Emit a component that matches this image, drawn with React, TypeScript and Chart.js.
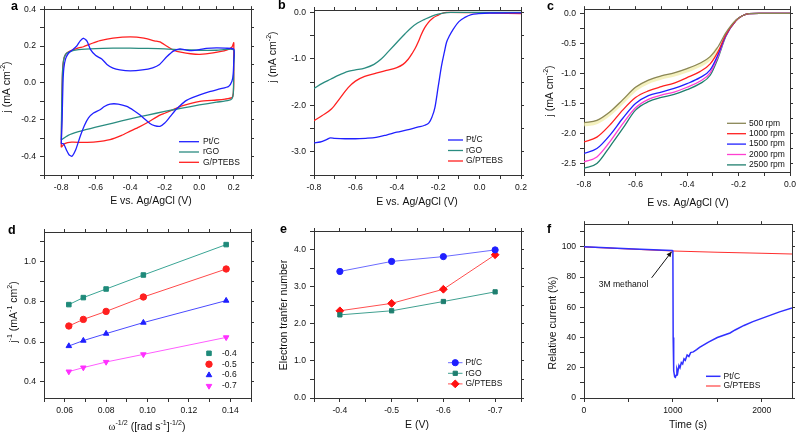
import React, { useEffect, useRef } from 'react';
import { Chart, registerables } from 'chart.js';
import { drawPoint } from 'chart.js/helpers';

Chart.register(...registerables);

const FONT = '"Liberation Sans", Arial, Helvetica, sans-serif';
const SERIF = '"Liberation Serif", "Times New Roman", serif';
const AXIS = '#333333';
const TXT = '#111111';

// ---------------- panel a : CV curves ([E, j]) ----------------
const cvPtC = [
  [-0.8, -0.33], [-0.795, -0.2], [-0.79, 0.0], [-0.785, 0.08], [-0.775, 0.13], [-0.76, 0.158], [-0.74, 0.175],
  [-0.71, 0.2], [-0.69, 0.228], [-0.67, 0.242], [-0.65, 0.225], [-0.63, 0.18], [-0.6, 0.148], [-0.565, 0.13],
  [-0.535, 0.1], [-0.5, 0.08], [-0.46, 0.07], [-0.4, 0.065], [-0.33, 0.07], [-0.27, 0.082], [-0.23, 0.1],
  [-0.19, 0.14], [-0.15, 0.172], [-0.112, 0.184], [-0.075, 0.178], [-0.045, 0.175], [0.0, 0.18], [0.04, 0.187],
  [0.1, 0.19], [0.15, 0.188], [0.2, 0.183],
  [0.2, 0.12], [0.197, 0.05], [0.19, 0.01], [0.17, -0.02], [0.12, -0.033], [0.06, -0.048], [0.003, -0.065],
  [-0.04, -0.08], [-0.074, -0.095], [-0.112, -0.124], [-0.14, -0.15], [-0.17, -0.185], [-0.2, -0.218],
  [-0.228, -0.236], [-0.26, -0.232], [-0.286, -0.22], [-0.343, -0.175], [-0.38, -0.15], [-0.42, -0.128],
  [-0.47, -0.115], [-0.517, -0.115], [-0.55, -0.128], [-0.575, -0.146], [-0.613, -0.164], [-0.642, -0.19],
  [-0.665, -0.23], [-0.69, -0.29], [-0.715, -0.36], [-0.738, -0.398], [-0.755, -0.39], [-0.767, -0.37],
  [-0.787, -0.33], [-0.8, -0.33],
];
const cvRGO = [
  [-0.8, -0.31], [-0.797, -0.1], [-0.793, 0.05], [-0.787, 0.12], [-0.775, 0.155], [-0.75, 0.17], [-0.7, 0.18],
  [-0.6, 0.186], [-0.5, 0.188], [-0.4, 0.188], [-0.3, 0.187], [-0.2, 0.185], [-0.1, 0.18], [0.0, 0.177],
  [0.1, 0.177], [0.2, 0.18],
  [0.2, 0.1], [0.199, 0.0], [0.197, -0.06], [0.19, -0.085], [0.17, -0.095], [0.1, -0.105], [0.0, -0.12],
  [-0.1, -0.137], [-0.2, -0.155], [-0.3, -0.175], [-0.4, -0.195], [-0.5, -0.218], [-0.6, -0.24],
  [-0.7, -0.265], [-0.76, -0.285], [-0.8, -0.31],
];
const cvGPTEBS = [
  [-0.8, -0.35], [-0.797, -0.15], [-0.793, 0.05], [-0.787, 0.12], [-0.775, 0.155], [-0.75, 0.172], [-0.7, 0.19],
  [-0.671, 0.196], [-0.62, 0.215], [-0.575, 0.229], [-0.5, 0.243], [-0.4, 0.25], [-0.32, 0.243], [-0.26, 0.228],
  [-0.228, 0.222], [-0.19, 0.2], [-0.15, 0.178], [-0.1, 0.165], [-0.05, 0.158], [0.003, 0.155], [0.08, 0.163],
  [0.158, 0.178], [0.19, 0.195], [0.2, 0.218],
  [0.2, 0.15], [0.2, 0.0], [0.197, -0.06], [0.19, -0.08], [0.15, -0.088], [0.1, -0.093], [0.003, -0.1],
  [-0.1, -0.125], [-0.15, -0.145], [-0.2, -0.165], [-0.228, -0.175], [-0.3, -0.215], [-0.35, -0.24],
  [-0.4, -0.262], [-0.45, -0.285], [-0.517, -0.308], [-0.6, -0.32], [-0.671, -0.323], [-0.74, -0.322],
  [-0.78, -0.33], [-0.8, -0.35],
];

// ---------------- panel b : LSV ([E, j]) ----------------
const lsvPtC = [
  [-0.8, -2.81], [-0.77, -2.79], [-0.74, -2.74], [-0.72, -2.7], [-0.7, -2.71], [-0.65, -2.72], [-0.6, -2.72],
  [-0.55, -2.71], [-0.5, -2.69], [-0.45, -2.64], [-0.4, -2.58], [-0.35, -2.53], [-0.3, -2.47], [-0.265, -2.43],
  [-0.245, -2.38], [-0.23, -2.25], [-0.216, -2.05], [-0.2, -1.6], [-0.184, -1.15], [-0.17, -0.85],
  [-0.16, -0.65], [-0.145, -0.5], [-0.127, -0.36], [-0.1, -0.2], [-0.071, -0.11], [-0.04, -0.05],
  [-0.006, -0.03], [0.05, -0.015], [0.2, -0.01],
];
const lsvRGO = [
  [-0.8, -1.64], [-0.76, -1.53], [-0.72, -1.44], [-0.68, -1.35], [-0.635, -1.27], [-0.6, -1.24], [-0.555, -1.2],
  [-0.51, -1.12], [-0.474, -1.0], [-0.44, -0.84], [-0.4, -0.65], [-0.36, -0.46], [-0.33, -0.33], [-0.3, -0.23],
  [-0.265, -0.15], [-0.23, -0.08], [-0.2, -0.04], [-0.17, -0.01], [-0.14, 0], [0.2, 0],
];
const lsvGPTEBS = [
  [-0.8, -2.33], [-0.76, -2.22], [-0.716, -2.08], [-0.675, -1.85], [-0.635, -1.62], [-0.6, -1.48],
  [-0.555, -1.38], [-0.5, -1.31], [-0.45, -1.25], [-0.4, -1.19], [-0.37, -1.12], [-0.345, -1.01],
  [-0.325, -0.88], [-0.313, -0.79], [-0.295, -0.62], [-0.281, -0.47], [-0.265, -0.33], [-0.248, -0.22],
  [-0.225, -0.12], [-0.2, -0.06], [-0.18, -0.02], [-0.16, 0], [0.0, -0.01], [0.2, -0.03],
];

// ---------------- panel c : RDE at several rpm ----------------
const rdeE = [-0.8, -0.75, -0.7, -0.65, -0.6, -0.55, -0.5, -0.45, -0.4, -0.35, -0.31, -0.28, -0.25, -0.21, -0.185, -0.16, -0.12, 0.0];
const rde500 = [-1.82, -1.78, -1.64, -1.44, -1.23, -1.11, -1.04, -0.99, -0.92, -0.83, -0.72, -0.56, -0.33, -0.11, -0.04, -0.005, 0, 0];
const rde1000 = [-2.14, -2.06, -1.86, -1.61, -1.4, -1.29, -1.22, -1.16, -1.07, -0.97, -0.84, -0.64, -0.36, -0.12, -0.04, -0.005, 0, 0];
const rde1500 = [-2.33, -2.25, -2.03, -1.75, -1.5, -1.37, -1.31, -1.25, -1.17, -1.07, -0.94, -0.69, -0.37, -0.12, -0.04, -0.005, 0, 0];
const rde2000 = [-2.47, -2.39, -2.14, -1.84, -1.57, -1.43, -1.36, -1.31, -1.23, -1.13, -0.99, -0.72, -0.38, -0.12, -0.04, -0.005, 0, 0];
const rde2500 = [-2.58, -2.5, -2.22, -1.92, -1.61, -1.47, -1.4, -1.35, -1.27, -1.17, -1.03, -0.75, -0.39, -0.12, -0.04, -0.005, 0, 0];
const rpmLabels = ['500 rpm', '1000 rpm', '1500 rpm', '2000 rpm', '2500 rpm'];
// pale glow seen just under the 500 rpm trace
const rde500GlowE = [-0.8, -0.75, -0.7, -0.65, -0.6, -0.55, -0.5, -0.45, -0.4, -0.35, -0.31, -0.28];
const rde500Glow = [-1.85, -1.81, -1.67, -1.47, -1.26, -1.14, -1.07, -1.02, -0.95, -0.86, -0.75, -0.58];

// ---------------- panel d : K-L plots ----------------
const klX = [0.062, 0.069, 0.080, 0.098, 0.138];
const kl04 = [0.787, 0.822, 0.865, 0.935, 1.087];
const kl05 = [0.68, 0.713, 0.753, 0.825, 0.965];
const kl06 = [0.58, 0.607, 0.642, 0.697, 0.807];
const kl07 = [0.452, 0.472, 0.5, 0.538, 0.623];
const klLabels = ['-0.4', '-0.5', '-0.6', '-0.7'];

// ---------------- panel e : electron transfer number ----------------
const etE = [-0.4, -0.5, -0.6, -0.7];
const etPtC = [3.41, 3.68, 3.81, 3.99];
const etRGO = [2.24, 2.35, 2.6, 2.86];
const etGPTEBS = [2.35, 2.55, 2.93, 3.86];

// ---------------- panel f : methanol tolerance ----------------
const chronoPtC = [
  [0, 100], [500, 98.8], [990, 97.6], [1000, 97.4], [1003, 40], [1006, 26], [1012, 18], [1020, 14], [1028, 13.7],
  [1036, 15], [1045, 19], [1055, 17], [1068, 21.5], [1080, 20], [1095, 23.5], [1110, 22.5], [1125, 26],
  [1140, 25], [1160, 28.5], [1180, 27.5], [1200, 30], [1230, 30.5], [1267, 32], [1300, 33.5], [1400, 37],
  [1500, 40], [1643, 43], [1700, 45], [1800, 48], [1900, 50.5], [2000, 52.7], [2100, 54.8], [2200, 57],
  [2340, 59.5],
];
const chronoGPTEBS = [[0, 100], [500, 98.6], [1000, 97.2], [1500, 96.4], [2000, 95.8], [2340, 95.3]];
const methanolNote = '3M methanol';
const noteAt = [444, 75];
const arrowFrom = [761, 79.5];
const arrowTo = [985, 96.7];

// ---------------- helpers ----------------
const pts = (arr: number[][]) => arr.map(([x, y]) => ({ x, y }));
const zip = (xs: number[], ys: number[]) => xs.map((x, i) => ({ x, y: ys[i] }));

const BLUE = '#2020ff';
const TEAL = '#2a8c80';
const RED = '#ff2020';

function line(label: string, data: any[], color: string, width = 1.2, extra: any = {}) {
  return {
    label, data, borderColor: color, backgroundColor: color, borderWidth: width,
    pointRadius: 0, showLine: true, fill: false, tension: 0, order: 0, ...extra,
  };
}

function fmt(every: number, dec: number) {
  return (v: number) => {
    const r = v / every;
    if (Math.abs(r - Math.round(r)) > 1e-6) return '';
    const val = Math.abs(v) < 1e-9 ? 0 : v;
    return val.toFixed(dec);
  };
}

function tickValues(min: number, max: number, step: number) {
  const out: { value: number }[] = [];
  const start = Math.ceil(min / step - 1e-6);
  const end = Math.floor(max / step + 1e-6);
  for (let k = start; k <= end; k++) out.push({ value: +(k * step).toFixed(6) });
  return out;
}

function scalesFor(g: any, ax: any) {
  const common = (len: number) => ({
    grid: { display: true, drawOnChartArea: false, drawTicks: true, tickLength: len, tickColor: AXIS, color: AXIS, lineWidth: 1 },
    border: { display: true, color: AXIS, width: 1 },
  });
  const tickFont = { family: FONT, size: 8.6 };
  const tk = (cb: any, pad: number) => ({
    autoSkip: false, maxRotation: 0, minRotation: 0,
    padding: pad, color: TXT, font: tickFont, callback: cb,
  });
  const xt = (s: any) => { s.ticks = tickValues(ax.xMin, ax.xMax, ax.xStep); };
  const yt = (s: any) => { s.ticks = tickValues(ax.yMin, ax.yMax, ax.yStep); };
  return {
    x: {
      type: 'linear', position: 'bottom', min: ax.xMin, max: ax.xMax, reverse: !!ax.xRev,
      afterBuildTicks: xt,
      afterFit: (s: any) => { s.height = g.H - g.B; },
      ...common(4), ticks: tk(fmt(ax.xEvery, ax.xDec), 3),
    },
    y: {
      type: 'linear', position: 'left', min: ax.yMin, max: ax.yMax,
      afterBuildTicks: yt,
      afterFit: (s: any) => { s.width = g.L; },
      ...common(4), ticks: tk(fmt(ax.yEvery, ax.yDec), 4),
    },
    x2: {
      type: 'linear', position: 'top', min: ax.xMin, max: ax.xMax, reverse: !!ax.xRev,
      afterBuildTicks: xt,
      afterFit: (s: any) => { s.height = 0; },
      ...common(3), ticks: tk(() => '', 0),
    },
    y2: {
      type: 'linear', position: 'right', min: ax.yMin, max: ax.yMax,
      afterBuildTicks: yt,
      afterFit: (s: any) => { s.width = 0; },
      ...common(3), ticks: tk(() => '', 0),
    },
  };
}

type Seg = { t: string; sup?: boolean; serif?: boolean };

function drawSegs(ctx: CanvasRenderingContext2D, segs: Seg[], size: number, cx: number, cy: number, rotate: boolean) {
  ctx.save();
  ctx.translate(cx, cy);
  if (rotate) ctx.rotate(-Math.PI / 2);
  const fontOf = (s: Seg) => `${s.sup ? size * 0.68 : size}px ${s.serif ? SERIF : FONT}`;
  let total = 0;
  const widths = segs.map((s) => { ctx.font = fontOf(s); const w = ctx.measureText(s.t).width; total += w; return w; });
  let x = -total / 2;
  ctx.fillStyle = TXT;
  ctx.textAlign = 'left';
  ctx.textBaseline = 'alphabetic';
  const base = size * 0.36;
  segs.forEach((s, i) => {
    ctx.font = fontOf(s);
    ctx.fillText(s.t, x, s.sup ? base - size * 0.42 : base);
    x += widths[i];
  });
  ctx.restore();
}

function makeDecor(d: any) {
  return {
    id: 'decor',
    afterDraw(chart: any) {
      const ctx: CanvasRenderingContext2D = chart.ctx;
      ctx.save();
      ctx.fillStyle = '#000';
      ctx.font = `bold 12.5px ${FONT}`;
      ctx.textAlign = 'left';
      ctx.textBaseline = 'middle';
      ctx.fillText(d.panel[0], d.panel[1], d.panel[2]);
      drawSegs(ctx, d.xTitle, 10.5, d.xPos[0], d.xPos[1], false);
      drawSegs(ctx, d.yTitle, 10.5, d.yPos[0], d.yPos[1], true);
      const lg = d.legend;
      let row = 0;
      chart.data.datasets.forEach((ds: any) => {
        if (ds.noLegend) return;
        const y = lg.y + row * lg.rowH;
        row++;
        if (lg.line) {
          ctx.strokeStyle = ds.borderColor;
          ctx.lineWidth = ds.borderWidth;
          ctx.beginPath();
          ctx.moveTo(lg.x, y);
          ctx.lineTo(lg.x + lg.len, y);
          ctx.stroke();
        }
        if (lg.marker) {
          ctx.fillStyle = ds.pointBackgroundColor;
          ctx.strokeStyle = ds.pointBorderColor;
          ctx.lineWidth = 1;
          drawPoint(ctx, { pointStyle: ds.pointStyle, rotation: ds.pointRotation || 0, radius: ds.pointRadius, borderWidth: 1 } as any, lg.x + lg.len / 2, y);
        }
        ctx.fillStyle = TXT;
        ctx.font = `${lg.size}px ${FONT}`;
        ctx.textAlign = 'left';
        ctx.textBaseline = 'middle';
        ctx.fillText(ds.label, lg.x + lg.len + lg.gap, y);
      });
      if (d.note) {
        const xs = chart.scales.x, ys = chart.scales.y;
        ctx.fillStyle = TXT;
        ctx.font = `8.6px ${FONT}`;
        ctx.textAlign = 'center';
        ctx.textBaseline = 'middle';
        ctx.fillText(d.note.text, xs.getPixelForValue(d.note.at[0]), ys.getPixelForValue(d.note.at[1]));
        const x1 = xs.getPixelForValue(d.note.from[0]), y1 = ys.getPixelForValue(d.note.from[1]);
        const x2 = xs.getPixelForValue(d.note.to[0]), y2 = ys.getPixelForValue(d.note.to[1]);
        ctx.strokeStyle = '#111';
        ctx.fillStyle = '#111';
        ctx.lineWidth = 1;
        ctx.beginPath();
        ctx.moveTo(x1, y1);
        ctx.lineTo(x2, y2);
        ctx.stroke();
        const ang = Math.atan2(y2 - y1, x2 - x1);
        const hl = 5, hw = 2.5;
        ctx.beginPath();
        ctx.moveTo(x2, y2);
        ctx.lineTo(x2 - hl * Math.cos(ang) + hw * Math.sin(ang), y2 - hl * Math.sin(ang) - hw * Math.cos(ang));
        ctx.lineTo(x2 - hl * Math.cos(ang) - hw * Math.sin(ang), y2 - hl * Math.sin(ang) + hw * Math.cos(ang));
        ctx.closePath();
        ctx.fill();
      }
      ctx.restore();
    },
  };
}

function buildConfig(g: any, ax: any, datasets: any[], decor: any) {
  return {
    type: 'scatter',
    data: { datasets },
    options: {
      responsive: false,
      animation: false,
      events: [],
      devicePixelRatio: 1,
      layout: { padding: { left: 0, top: g.T, right: g.W - g.R, bottom: 0 } },
      plugins: { legend: { display: false }, tooltip: { enabled: false } },
      scales: scalesFor(g, ax),
    },
    plugins: [makeDecor(decor)],
  } as any;
}

// ---------------- panel geometry ----------------
const GA = { left: 0, top: 0, W: 265, H: 215, L: 44, R: 251, T: 9, B: 175 };
const GB = { left: 265, top: 0, W: 265, H: 215, L: 49, R: 256, T: 10, B: 175 };
const GC = { left: 530, top: 0, W: 269, H: 215, L: 54, R: 263, T: 9, B: 172 };
const GD = { left: 0, top: 215, W: 265, H: 219, L: 44, R: 251, T: 17, B: 183 };
const GE = { left: 265, top: 215, W: 265, H: 219, L: 49, R: 256, T: 16, B: 183 };
const GF = { left: 530, top: 215, W: 269, H: 219, L: 54, R: 262, T: 8, B: 183 };

const EvsAg: Seg[] = [{ t: 'E vs. Ag/AgCl (V)' }];
const jTitle: Seg[] = [{ t: 'j (mA cm' }, { t: '-2', sup: true }, { t: ')' }];

function configA() {
  return buildConfig(GA,
    { xMin: -0.9, xMax: 0.3, xStep: 0.1, xEvery: 0.2, xDec: 1, yMin: -0.5, yMax: 0.4, yStep: 0.1, yEvery: 0.2, yDec: 1 },
    [
      line('Pt/C', pts(cvPtC), BLUE, 1.3, { tension: 0.2 }),
      line('rGO', pts(cvRGO), TEAL, 1.3, { tension: 0.2 }),
      line('G/PTEBS', pts(cvGPTEBS), RED, 1.3, { tension: 0.2 }),
    ],
    { panel: ['a', 11, 7], xTitle: EvsAg, xPos: [151, 200], yTitle: jTitle, yPos: [6, 87],
      legend: { x: 179, y: 141.7, rowH: 10.3, len: 20, gap: 4, size: 8.5, line: true, marker: false } });
}

function configB() {
  const mono = { cubicInterpolationMode: 'monotone' };
  return buildConfig(GB,
    { xMin: -0.8, xMax: 0.2, xStep: 0.1, xEvery: 0.2, xDec: 1, yMin: -3.5, yMax: 0.05, yStep: 0.5, yEvery: 1, yDec: 1 },
    [
      line('Pt/C', pts(lsvPtC), BLUE, 1.3, mono),
      line('rGO', pts(lsvRGO), TEAL, 1.3, mono),
      line('G/PTEBS', pts(lsvGPTEBS), RED, 1.3, mono),
    ],
    { panel: ['b', 13, 6], xTitle: EvsAg, xPos: [152, 201], yTitle: jTitle, yPos: [7, 57],
      legend: { x: 183, y: 140, rowH: 10.5, len: 15, gap: 3, size: 8.5, line: true, marker: false } });
}

function configC() {
  const mono = { cubicInterpolationMode: 'monotone' };
  const ys = [rde500, rde1000, rde1500, rde2000, rde2500];
  const cols = ['#8a8656', '#ff2020', '#2020ff', '#ff3fd0', '#1f7f6e'];
  const sets = ys.map((y, i) => line(rpmLabels[i], zip(rdeE, y), cols[i], 1.3, mono));
  sets.push(line('', zip(rde500GlowE, rde500Glow), 'rgba(240,236,170,0.75)', 4, { ...mono, noLegend: true, order: 5 }));
  return buildConfig(GC,
    { xMin: -0.8, xMax: 0.0, xStep: 0.1, xEvery: 0.2, xDec: 1, yMin: -2.64, yMax: 0.07, yStep: 0.25, yEvery: 0.5, yDec: 1 },
    sets,
    { panel: ['c', 17, 7], xTitle: EvsAg, xPos: [158, 202], yTitle: jTitle, yPos: [19, 91],
      legend: { x: 197, y: 123.3, rowH: 10.4, len: 19, gap: 3, size: 8.5, line: true, marker: false } });
}

function configD() {
  const ys = [kl04, kl05, kl06, kl07];
  const mk = ['#1f8a7a', '#ff2020', '#1f1fff', '#ff30ff'];
  const ln = ['#3aa595', '#ff4a4a', '#4a4aff', '#ff5cff'];
  const styles = ['rect', 'circle', 'triangle', 'triangle'];
  const rots = [0, 0, 0, 180];
  return buildConfig(GD,
    { xMin: 0.05, xMax: 0.15, xStep: 0.01, xEvery: 0.02, xDec: 2, yMin: 0.32, yMax: 1.15, yStep: 0.1, yEvery: 0.2, yDec: 1 },
    ys.map((y, i) => line(klLabels[i], zip(klX, y), ln[i], 1, {
      pointRadius: 3.2, pointStyle: styles[i], pointRotation: rots[i],
      pointBackgroundColor: mk[i], pointBorderColor: mk[i], pointBorderWidth: 1,
    })),
    { panel: ['d', 8, 16], xTitle: [{ t: 'ω', serif: true }, { t: '-1/2', sup: true }, { t: ' ([rad s' }, { t: '-1', sup: true }, { t: ']' }, { t: '-1/2', sup: true }, { t: ')' }],
      xPos: [147, 211],
      yTitle: [{ t: 'j' }, { t: '-1', sup: true }, { t: ' (mA' }, { t: '-1', sup: true }, { t: ' cm' }, { t: '2', sup: true }, { t: ')' }],
      yPos: [13, 97],
      legend: { x: 203, y: 138.3, rowH: 10.9, len: 12, gap: 7, size: 8.5, line: false, marker: true } });
}

function configE() {
  const mk = (c: string, style: string, r: number) => ({
    pointRadius: r, pointStyle: style, pointBackgroundColor: c, pointBorderColor: c, pointBorderWidth: 1,
  });
  return buildConfig(GE,
    { xMin: -0.75, xMax: -0.35, xRev: true, xStep: 0.05, xEvery: 0.1, xDec: 1, yMin: 0, yMax: 4.5, yStep: 0.5, yEvery: 1, yDec: 1 },
    [
      line('Pt/C', zip(etE, etPtC), '#6b6bff', 1, mk('#1f1fff', 'circle', 3.1)),
      line('rGO', zip(etE, etRGO), '#40a090', 1, mk('#1f7f70', 'rect', 3.0)),
      line('G/PTEBS', zip(etE, etGPTEBS), '#ff5050', 1, mk('#ff1010', 'rectRot', 3.9)),
    ],
    { panel: ['e', 15, 15], xTitle: [{ t: 'E (V)' }], xPos: [152, 209], yTitle: [{ t: 'Electron tranfer number' }], yPos: [18, 100],
      legend: { x: 183, y: 147.7, rowH: 10.6, len: 14.5, gap: 3, size: 8.5, line: true, marker: true } });
}

function configF() {
  return buildConfig(GF,
    { xMin: 0, xMax: 2340, xStep: 500, xEvery: 1000, xDec: 0, yMin: 0, yMax: 115, yStep: 10, yEvery: 20, yDec: 0 },
    [
      line('Pt/C', pts(chronoPtC), '#3030ff', 1.5),
      line('G/PTEBS', pts(chronoGPTEBS), '#ff3030', 1.1),
    ],
    { panel: ['f', 17, 15], xTitle: [{ t: 'Time (s)' }], xPos: [158, 209], yTitle: [{ t: 'Relative current (%)' }], yPos: [22, 108],
      legend: { x: 176, y: 161.3, rowH: 9.7, len: 14.5, gap: 3, size: 8.5, line: true, marker: false },
      note: { text: methanolNote, at: noteAt, from: arrowFrom, to: arrowTo } });
}

function Panel({ g, build }: { g: any; build: () => any }) {
  const ref = useRef<HTMLCanvasElement>(null);
  useEffect(() => {
    const chart = new Chart(ref.current as HTMLCanvasElement, build());
    return () => chart.destroy();
  }, []);
  return (
    <canvas
      ref={ref}
      width={g.W}
      height={g.H}
      style={{ position: 'absolute', left: g.left, top: g.top, width: g.W, height: g.H }}
    />
  );
}

export default function App() {
  return (
    <div style={{ position: 'absolute', left: 0, top: 0, width: 799, height: 434, background: '#fff', overflow: 'hidden' }}>
      <Panel g={GA} build={configA} />
      <Panel g={GB} build={configB} />
      <Panel g={GC} build={configC} />
      <Panel g={GD} build={configD} />
      <Panel g={GE} build={configE} />
      <Panel g={GF} build={configF} />
    </div>
  );
}
